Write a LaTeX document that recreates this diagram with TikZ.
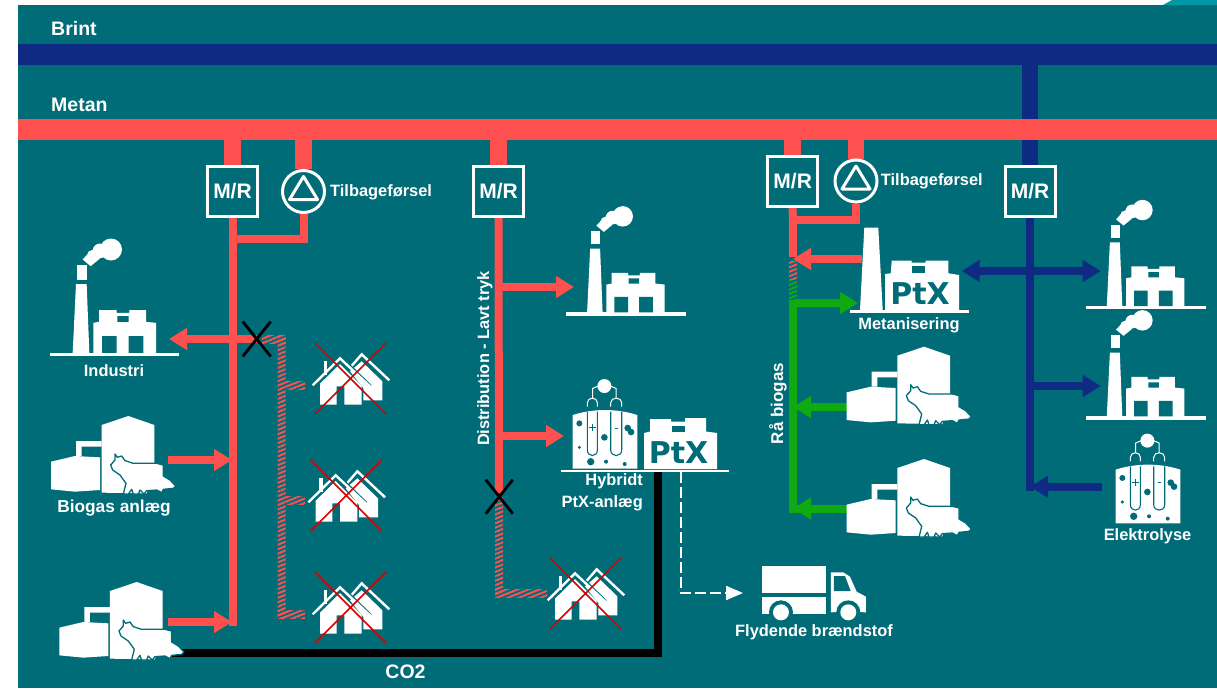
\documentclass[tikz,border=0pt]{standalone}
\usepackage{fontspec}
\setmainfont{Liberation Sans}
\newfontfamily\ptxfont{DejaVu Sans}
\usetikzlibrary{arrows.meta,patterns.meta,calc}
\definecolor{bgteal}{HTML}{006C78}
\definecolor{lteal}{HTML}{0097A7}
\definecolor{gasred}{HTML}{FF5050}
\definecolor{h2blue}{HTML}{0F2A82}
\definecolor{biogreen}{HTML}{0FAA0F}
\pgfdeclarelayer{base}
\pgfdeclarelayer{pipes}
\pgfsetlayers{base,pipes,main}
\newcommand{\lab}[1]{\fontsize{#1}{#1}\selectfont\bfseries}
\tikzset{
  label16/.style={text=white,inner sep=0pt,font=\lab{16.4}},
  label19/.style={text=white,inner sep=0pt,font=\lab{19.5}},
  mainbar/.style={line width=21pt},
  stubpipe/.style={line width=16.5pt},
  thinpipe/.style={line width=8pt},
  flow/.style={line width=8pt,-{Triangle[length=18pt,width=21pt]}},
  twoflow/.style={line width=8pt,{Triangle[length=18pt,width=21pt]}-{Triangle[length=18pt,width=21pt]}},
  mrbox/.style={draw=white,line width=3pt,fill=bgteal,text=white,minimum size=50pt,inner sep=0pt,font=\lab{21}},
  valve/.style={circle,draw=white,line width=3pt,fill=bgteal,minimum size=42pt,inner sep=0pt},
  valvetri/.style={draw=white,line width=3pt,line join=round},
  ptxlabel/.style={text=bgteal,inner sep=0pt,font=\ptxfont\fontsize{30}{30}\selectfont\bfseries},
  hatchred/.style={pattern={Lines[angle=22,distance=4.1pt,line width=2pt]},pattern color=gasred},
  hatchgreen/.style={pattern={Lines[angle=22,distance=4.1pt,line width=2pt]},pattern color=biogreen},
  blackx/.style={draw=black,line width=2.8pt},
  redx/.style={draw=red!85!black,line width=1.5pt},
  factory/.pic={
    \begin{scope}[scale=1/3,shift={(-150,-673)}]
      \fill[white] (150,668) rectangle (538,678);
      \fill[white] (218,668)--(228,462)--(260,462)--(268,668)--cycle;
      \fill[white] (230,405) rectangle (260,448);
      \fill[white] (333,358) circle[radius=33] (300,362) circle[radius=22] (278,376) circle[radius=17];
      \fill[white] (248,388)--(272,362)--(300,385)--(272,408)--cycle;
      \fill[white] (280,668)--(280,578)--(297,575)--(297,540)--(350,540)--(350,548)--(388,548)--(388,540)--(438,540)--(438,575)--(468,578)--(468,668)--cycle;
      \fill[bgteal] (352,558) rectangle (386,575) (306,618) rectangle (350,668) (386,618) rectangle (430,668);
    \end{scope}
  },
  biogas/.pic={
    \begin{scope}[scale=1/3,shift={(-153,-270)}]
      \fill[white] (153,185)--(225,168)--(300,172)--(300,270)--(225,275)--(153,268)--cycle;
      \fill[white] (228,168)--(228,123)--(305,123)--(305,140)--(245,140)--(245,168)--cycle;
      \fill[white] (305,75)--(385,48)--(463,75)--(463,200)--(440,280)--(305,278)--cycle;
      \filldraw[fill=white,draw=bgteal,line width=1.3pt,line join=round] (345,162)--(352,172)--(365,168)--(375,182)--(400,190)--(470,190)--(490,195)--(490,228)--(510,240)--(527,258)--(520,265)--(490,268)--(485,278)--(470,270)--(440,272)--(432,282)--(420,270)--(415,282)--(400,282)--(395,268)--(385,282)--(370,282)--(378,250)--(360,225)--(338,210)--(332,195)--(345,180)--cycle;
    \end{scope}
  },
  house/.pic={
    \begin{scope}[scale=1/3,shift={(-945,-640)}]
      \fill[white] (1085,695)--(1147,755)--(1147,812)--(1090,812)--(1090,775)--(1050,725)--cycle;
      \draw[white,line width=2.4pt] (1052,712)--(1085,674)--(1168,752);
      \draw[bgteal,line width=3pt] (1030,690)--(1112,770);
      \fill[white] (960,825)--(960,762)--(1020,703)--(1085,768)--(1085,825)--(1033,825)--(1033,770)--(1010,770)--(1010,825)--cycle;
      \draw[white,line width=2.4pt] (938,767)--(1020,686)--(1110,770)--(1100,780);
      \fill[white] (971,695) rectangle (981,735);
      \draw[redx] (945,640)--(1158,853) (1158,640)--(945,853);
    \end{scope}
  },
  electro/.pic={
    \begin{scope}[scale=1/3,shift={(-338,-326)}]
      \fill[white] (338,165) .. controls (400,145) and (470,145) .. (532,165)--(532,326)--(338,326)--cycle;
      \draw[bgteal,line width=1.1pt] (382,155)--(382,270) .. controls (382,292) and (412,292) .. (412,270)--(412,155);
      \draw[bgteal,line width=1.1pt] (452,155)--(452,270) .. controls (452,292) and (485,292) .. (485,270)--(485,155);
      \fill[bgteal] (358,190) circle[radius=9] (433,232) circle[radius=10] (358,262) circle[radius=5] (392,305) circle[radius=11] (438,305) circle[radius=6] (494,312) circle[radius=6] (503,204) circle[radius=10] (513,216) circle[radius=10];
      \draw[bgteal,line width=.8pt] (388,203)--(408,203) (398,193)--(398,213) (464,204)--(474,204);
      \fill[white] (433,78) circle[radius=21];
      \draw[white,line width=1pt] (415,78)--(398,85)--(398,115) (451,78)--(468,85)--(468,115);
      \draw[white,line width=1pt] (382,140)--(382,128) .. controls (382,110) and (412,110) .. (412,128)--(412,140);
      \draw[white,line width=1pt] (452,140)--(452,128) .. controls (452,110) and (485,110) .. (485,128)--(485,140);
    \end{scope}
  },
  truck/.pic={
    \begin{scope}[scale=1/3,shift={(-907,-762)}]
      \fill[white] (907,618) rectangle (1098,700);
      \fill[white] (907,712) rectangle (1098,762);
      \fill[white] (1113,637)--(1150,637)--(1170,650)--(1190,695)--(1218,710)--(1218,757)--(1113,757)--cycle;
      \fill[bgteal] (1122,648)--(1155,648)--(1172,693)--(1122,693)--cycle;
      \fill[bgteal] (963,757) circle[radius=36] (1165,757) circle[radius=36];
      \fill[bgteal] (920,762) rectangle (1010,790) (1120,757) rectangle (1210,790);
      \fill[white] (963,757) circle[radius=24] (1165,757) circle[radius=24];
    \end{scope}
  }
}
\begin{document}
\begin{tikzpicture}[x=1pt,y=-1pt]
\useasboundingbox (0,0) rectangle (1217,688);
\begin{pgfonlayer}{base}
\fill[white] (0,0) rectangle (1217,688);
\fill[bgteal] (18,5) rectangle (1217,688);
\fill[lteal] (1163,5)--(1172,0)--(1217,0)--(1217,5)--cycle;
\end{pgfonlayer}

% bar ends and pipe points
\coordinate (brintL) at (18,54.5);
\coordinate (brintR) at (1217,54.5);
\coordinate (metanL) at (18,129.5);
\coordinate (metanR) at (1217,129.5);
\coordinate (a1end) at (232.5,626);
\coordinate (v1join) at (232.5,239);
\coordinate (ind1) at (169,339);
\coordinate (x1) at (256.7,339);
\coordinate (bio1out) at (168,460);
\coordinate (bio1in) at (232,460);
\coordinate (bio2out) at (168,622);
\coordinate (bio2in) at (232,622);
\coordinate (b2end) at (499,493);
\coordinate (b2tap1) at (499,287);
\coordinate (b2fac) at (574,287);
\coordinate (b2tap2) at (499,436);
\coordinate (b2hyb) at (564,436);
\coordinate (x2) at (499.3,496.7);
\coordinate (co2a) at (133,652.5);
\coordinate (co2b) at (657.7,652.5);
\coordinate (co2c) at (657.7,471);
\coordinate (fuelA) at (681,472);
\coordinate (fuelB) at (681,593);
\coordinate (fuelC) at (743,593);
\coordinate (b3end) at (793,257);
\coordinate (v2join) at (793,219.5);
\coordinate (metaOut) at (862,259);
\coordinate (metaIn) at (793,259);
\coordinate (gTop) at (793,300);
\coordinate (gFac) at (858,303);
\coordinate (gBot) at (793,508.5);
\coordinate (gBio1) at (847,407);
\coordinate (gBio1in) at (793,407);
\coordinate (gBio2) at (847,508.5);
\coordinate (gBio2in) at (793,508.5);
\coordinate (eBot) at (1030,490.7);
\coordinate (dblL) at (961.7,271);
\coordinate (dblR) at (1100.7,271);
\coordinate (facTap) at (1026,386);
\coordinate (facIn) at (1100.7,386);
\coordinate (elOut) at (1102,486.7);
\coordinate (elIn) at (1030,486.7);

% boxes and valves
\node[mrbox] (mr1) at (232.5,191.5) {M/R};
\node[valve] (v1) at (303.5,191.5) {};
\node[mrbox] (mr2) at (498.5,191.5) {M/R};
\node[mrbox] (mr3) at (792.7,181) {M/R};
\node[valve] (v2) at (856,181) {};
\node[mrbox] (mr4) at (1030,191.5) {M/R};
\draw[valvetri,shift={(v1.center)}] (0,-15)--(-14,8)--(14,8)--cycle;
\draw[valvetri,shift={(v2.center)}] (0,-15)--(-14,8)--(14,8)--cycle;

\begin{pgfonlayer}{pipes}
% main bars and stubs
\draw[mainbar,h2blue] (brintL)--(brintR);
\draw[stubpipe,h2blue] (mr4.north)--(mr4.north |- brintL);
\draw[mainbar,gasred] (metanL)--(metanR);
\draw[stubpipe,gasred] (mr1.north)--(mr1.north |- metanL);
\draw[stubpipe,gasred] (v1.north)--(v1.north |- metanL);
\draw[stubpipe,gasred] (mr2.north)--(mr2.north |- metanL);
\draw[stubpipe,gasred] (mr3.north)--(mr3.north |- metanL);
\draw[stubpipe,gasred] (v2.north)--(v2.north |- metanL);

% left network
\draw[thinpipe,gasred] (mr1.south)--(a1end);
\draw[thinpipe,gasred] (v1.south)--(v1.south |- v1join)--(v1join);
\draw[flow,gasred] (x1)--(ind1);
\draw[flow,gasred] (bio1out)--(bio1in);
\draw[flow,gasred] (bio2out)--(bio2in);
\fill[hatchred] (262,335) rectangle (285.7,343);
\fill[hatchred] (277.5,335) rectangle (285.7,618);
\fill[hatchred] (285.7,381) rectangle (305,389);
\fill[hatchred] (285.7,496.5) rectangle (305,504.5);
\fill[hatchred] (277.5,610) rectangle (305,618);
\draw[blackx,shift={(x1)}] (-14,-17.5)--(14,17.5) (14,-17.5)--(-14,17.5);

% middle network
\draw[thinpipe,gasred] (mr2.south)--(b2end);
\draw[flow,gasred] (b2tap1)--(b2fac);
\draw[flow,gasred] (b2tap2)--(b2hyb);
\fill[hatchred] (495,497) rectangle (503,597);
\fill[hatchred] (495,589) rectangle (547,597);
\draw[blackx,shift={(x2)}] (-13.5,-17)--(13.5,17) (13.5,-17)--(-13.5,17);

% CO2 and fuel
\draw[line width=8pt,black,line join=miter] (co2a)--(co2b)--(co2c);
\draw[white,line width=2pt,dash pattern=on 11pt off 4pt,-{Triangle[length=17pt,width=14pt]}] (fuelA)--(fuelB)--(fuelC);

% right-middle network
\draw[thinpipe,gasred] (mr3.south)--(b3end);
\draw[thinpipe,gasred] (v2.south)--(v2.south |- v2join)--(v2join);
\draw[flow,gasred] (metaOut)--(metaIn);
\fill[hatchred] (789,261) rectangle (797,279);
\fill[hatchgreen] (789,280) rectangle (797,300);
\draw[thinpipe,biogreen] (gBot)--(gTop);
\draw[flow,biogreen,rounded corners=3pt] (793,306)--(793,303)--(gFac);
\draw[thinpipe,biogreen] (789,508.5)--(800,508.5);
\draw[flow,biogreen] (gBio1)--(gBio1in);
\draw[flow,biogreen] (gBio2)--(gBio2in);

% blue network
\draw[thinpipe,h2blue] (mr4.south)--(eBot);
\draw[twoflow,h2blue] (dblL)--(dblR);
\draw[flow,h2blue] (facTap)--(facIn);
\draw[flow,h2blue] (elOut)--(elIn);
\end{pgfonlayer}

% pictures
\pic (facA) at (50,354.5) {factory};
\pic[scale=.93] (facB) at (566,314) {factory};
\pic[scale=.93] (facC) at (1085.7,307.7) {factory};
\pic[scale=.93] (facD) at (1085.7,418) {factory};
\pic (bioA) at (51,490) {biogas};
\pic (bioB) at (59.3,656) {biogas};
\pic (bioC) at (846.7,420.7) {biogas};
\pic (bioD) at (846.7,533) {biogas};
\pic (hsA) at (315,343) {house};
\pic (hsB) at (310.7,460) {house};
\pic (hsC) at (315,572) {house};
\pic (hsD) at (550,558) {house};
\pic (trk) at (762.3,614) {truck};
\pic (elA) at (572.7,468.7) {electro};
\pic (elB) at (1115.7,523.3) {electro};

% hybrid plant
\fill[white] (561,469.5) rectangle (729,472);
\fill[white] (644,469)--(644,433)--(650,431.5)--(650,419)--(671,419)--(671,421.5)--(685,421.5)--(685,418)--(706,418)--(706,431.5)--(717,433)--(717,469)--cycle;
\fill[bgteal] (671.5,425.5) rectangle (684.5,431.5);
\node[ptxlabel] (ptxA) at (678.5,452.5) {PtX};

% methanisation plant
\fill[white] (850,310) rectangle (969,313);
\fill[white] (860,310)--(864.3,227.7)--(878.3,227.7)--(882.7,310)--cycle;
\fill[white] (885,310)--(885,274)--(890.7,273.3)--(891.7,260.7)--(911.7,260.7)--(911.7,262.7)--(925.7,262.7)--(925.7,260.7)--(948.3,260.7)--(948.3,273.3)--(959,275)--(959,310)--cycle;
\fill[bgteal] (912.3,266) rectangle (925,273.3);
\node[ptxlabel] (ptxB) at (920,294) {PtX};

% labels
\node[label19,anchor=west] (tBrint) at (51,29) {Brint};
\node[label19,anchor=west] (tMetan) at (51,105) {Metan};
\node[label16,anchor=west] (tTil1) at (330,192) {Tilbageførsel};
\node[label16,anchor=west] (tTil2) at (880.7,181.7) {Tilbageførsel};
\node[label16] (tInd) at (114,371) {Industri};
\node[label16,font=\lab{17.3}] (tBio) at (114,508) {Biogas anlæg};
\node[label16,rotate=90] (tDist) at (485,358.5) {Distribution - Lavt tryk};
\node[label16,rotate=90,font=\lab{17}] (tRaa) at (778,403.5) {Rå biogas};
\node[label16,anchor=east] (tHyb) at (643,481) {Hybridt};
\node[label16,anchor=east] (tPtx) at (643,503) {PtX-anlæg};
\node[label16] (tMeta) at (909,325) {Metanisering};
\node[label16] (tFuel) at (814,632) {Flydende brændstof};
\node[label16] (tEl) at (1147.5,536) {Elektrolyse};
\node[label19] (tCO) at (405.5,672) {CO2};
\end{tikzpicture}
\end{document}
